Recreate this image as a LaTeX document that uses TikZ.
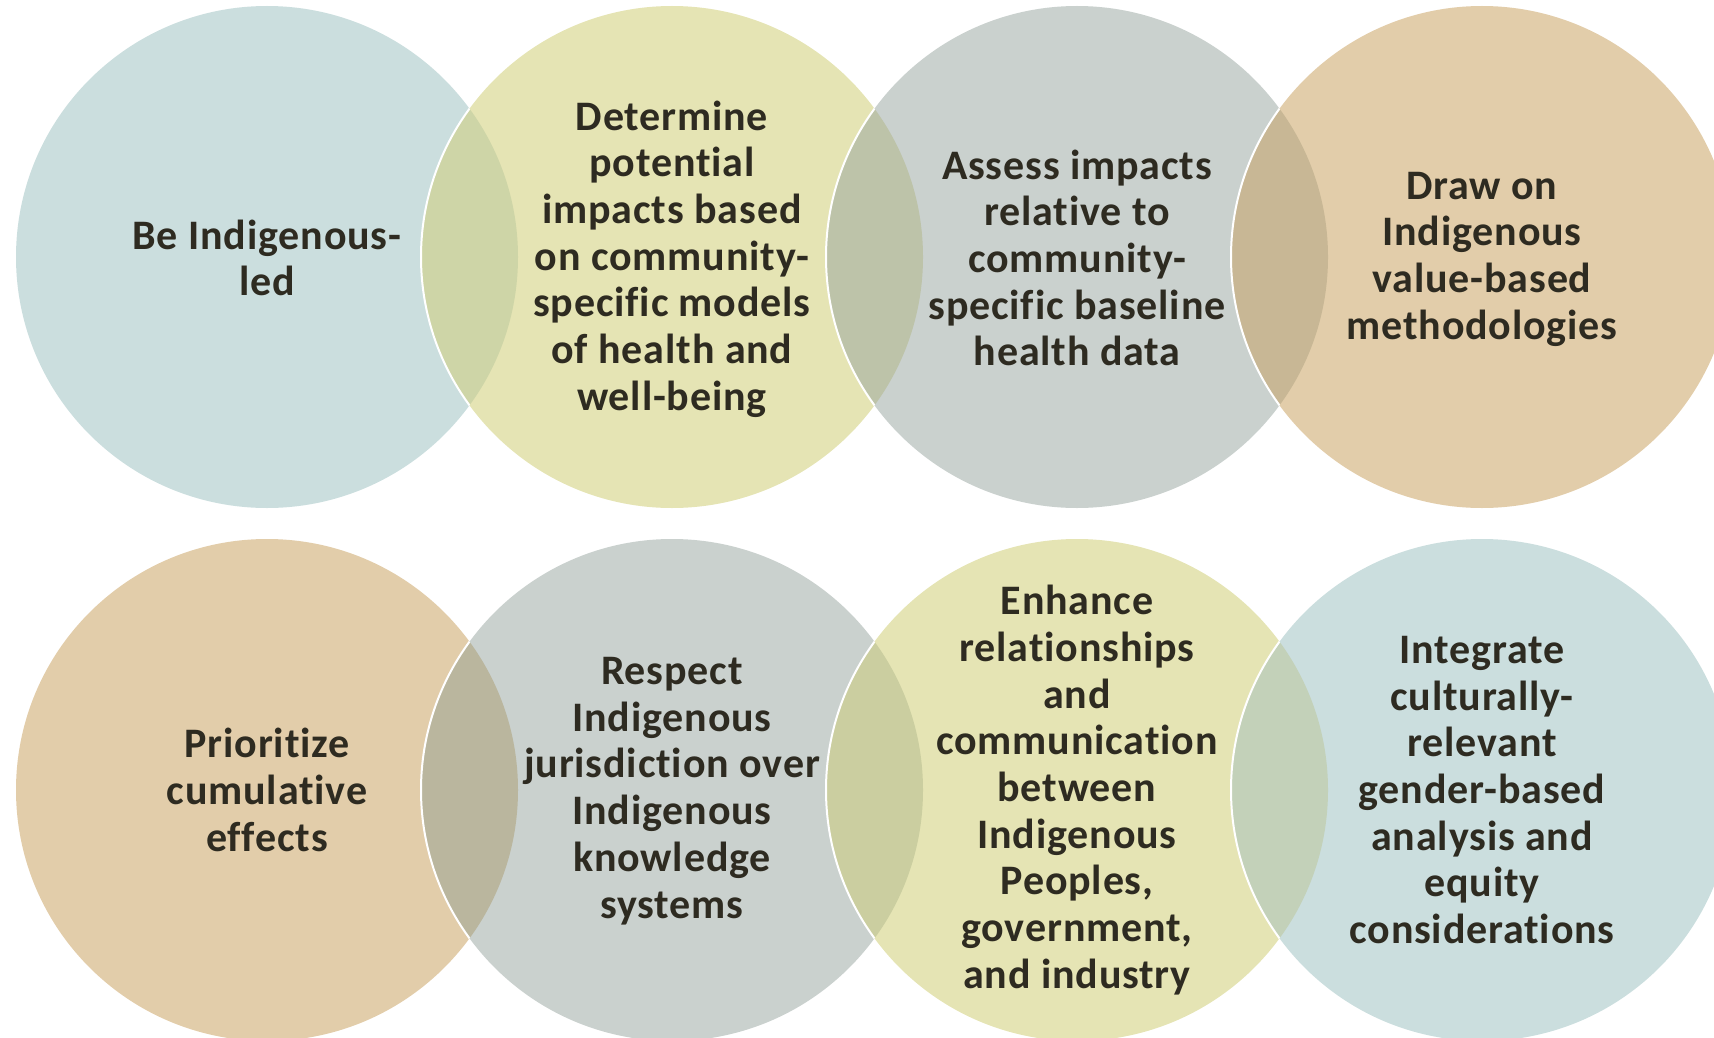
\documentclass[tikz,border=0pt]{standalone}
\usepackage{fontspec}
\newfontfamily\lblfont[LetterSpace=2,Ligatures=NoCommon]{Carlito}
\definecolor{cblue}{HTML}{CBDEDE}
\definecolor{cyell}{HTML}{E5E4B4}
\definecolor{cgray}{HTML}{CAD1CE}
\definecolor{ctan}{HTML}{E2CDAA}
\definecolor{ovBY}{HTML}{CED5A7}
\definecolor{ovYG}{HTML}{BDC3A9}
\definecolor{ovGT}{HTML}{C8B795}
\definecolor{ovTG}{HTML}{BAB69E}
\definecolor{ovGY}{HTML}{CBCEA0}
\definecolor{ovYB}{HTML}{C3D1B9}
\definecolor{txt}{HTML}{2E2B21}
\begin{document}
\begin{tikzpicture}[x=1pt,y=-1pt,
  lbl/.style={align=center,text=txt,inner sep=0pt,font=\lblfont\bfseries\fontsize{42}{46.7}\selectfont},
  rim/.style={draw=white,line width=2pt}]
\useasboundingbox (0,0) rectangle (1714,1038);
\def\R{251}
% top row circles
\fill[cblue] (267,257) circle[radius=\R];
\fill[cyell] (672,257) circle[radius=\R];
\fill[cgray] (1077,257) circle[radius=\R];
\fill[ctan]  (1482,257) circle[radius=\R];
% bottom row circles
\fill[ctan]  (267,790) circle[radius=\R];
\fill[cgray] (672,790) circle[radius=\R];
\fill[cyell] (1077,790) circle[radius=\R];
\fill[cblue] (1482,790) circle[radius=\R];
% overlaps top
\begin{scope}\clip (267,257) circle[radius=\R];
  \fill[ovBY] (672,257) circle[radius=\R]; \draw[rim] (672,257) circle[radius=\R];\end{scope}
\begin{scope}\clip (672,257) circle[radius=\R];
  \fill[ovYG] (1077,257) circle[radius=\R]; \draw[rim] (1077,257) circle[radius=\R];\end{scope}
\begin{scope}\clip (1077,257) circle[radius=\R];
  \fill[ovGT] (1482,257) circle[radius=\R]; \draw[rim] (1482,257) circle[radius=\R];\end{scope}
% overlaps bottom
\begin{scope}\clip (267,790) circle[radius=\R];
  \fill[ovTG] (672,790) circle[radius=\R]; \draw[rim] (672,790) circle[radius=\R];\end{scope}
\begin{scope}\clip (672,790) circle[radius=\R];
  \fill[ovGY] (1077,790) circle[radius=\R]; \draw[rim] (1077,790) circle[radius=\R];\end{scope}
\begin{scope}\clip (1077,790) circle[radius=\R];
  \fill[ovYB] (1482,790) circle[radius=\R]; \draw[rim] (1482,790) circle[radius=\R];\end{scope}
% labels
\node[lbl] (t1) at (267,258) {Be Indigenous-\\led};
\node[lbl] (t2) at (672,259) {Determine\\potential\\impacts based\\on community-\\specific models\\of health and\\well-being};
\node[lbl] (t3) at (1077,258) {Assess impacts\\relative to\\community-\\specific baseline\\health data};
\node[lbl] (t4) at (1482,259) {Draw on\\Indigenous\\value-based\\methodologies};
\node[lbl] (b1) at (267,790) {Prioritize\\cumulative\\effects};
\node[lbl] (b2) at (672,791) {Respect\\Indigenous\\jurisdiction over\\Indigenous\\knowledge\\systems};
\node[lbl] (b3) at (1077,790) {Enhance\\relationships\\and\\communication\\between\\Indigenous\\Peoples,\\government,\\and industry};
\node[lbl] (b4) at (1482,790) {Integrate\\culturally-\\relevant\\gender-based\\analysis and\\equity\\considerations};
\end{tikzpicture}
\end{document}
